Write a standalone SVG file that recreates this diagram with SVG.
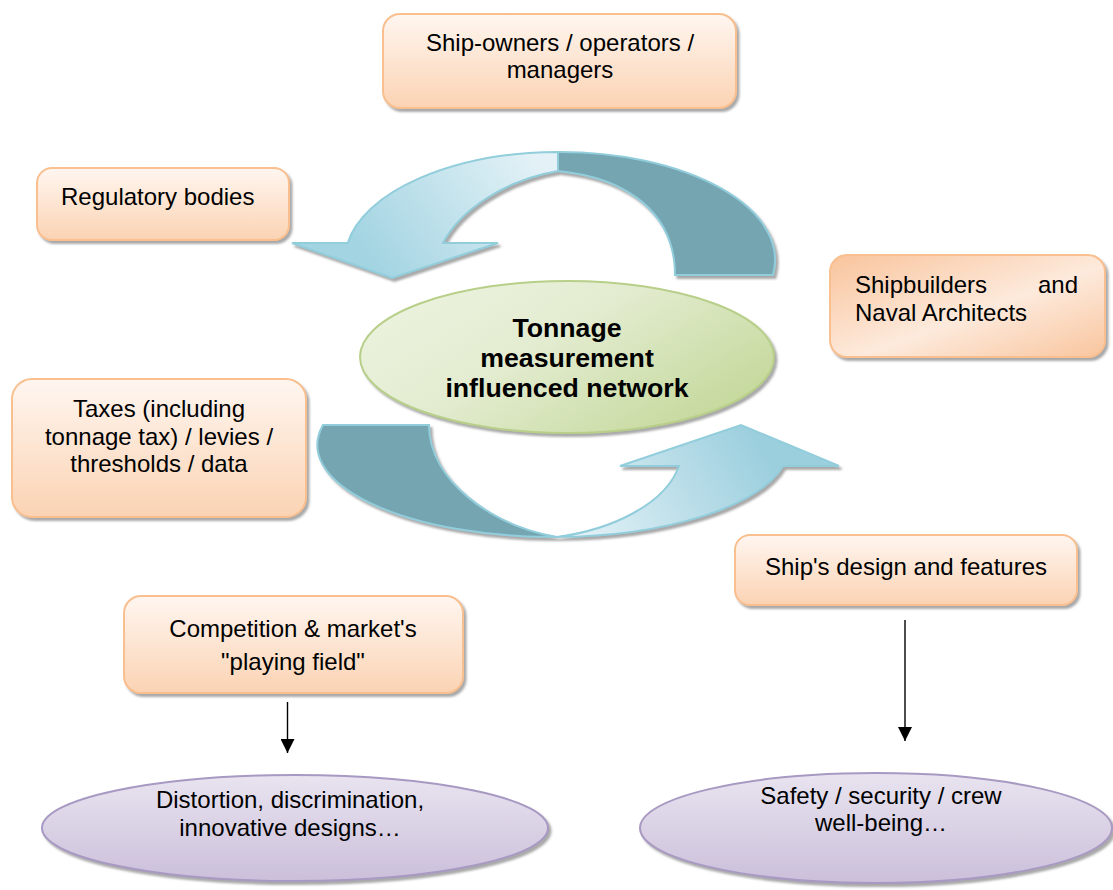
<svg xmlns="http://www.w3.org/2000/svg" width="1113" height="890" viewBox="0 0 1113 890">
<defs>
<filter id="sh" x="-10%" y="-10%" width="130%" height="130%">
<feDropShadow dx="2.5" dy="3" stdDeviation="0.8" flood-color="#7a7a7a" flood-opacity="0.65"/>
</filter>
<linearGradient id="gBox" x1="0" y1="0" x2="0" y2="1">
<stop offset="0" stop-color="#fff6f0"/>
<stop offset="1" stop-color="#fbd3b3"/>
</linearGradient>
<linearGradient id="gBoxD" x1="0" y1="0" x2="1" y2="1">
<stop offset="0" stop-color="#f9c49c"/>
<stop offset="0.55" stop-color="#fdeadc"/>
<stop offset="1" stop-color="#f9c59e"/>
</linearGradient>
<linearGradient id="gGreen" x1="0" y1="0" x2="1" y2="0.6">
<stop offset="0" stop-color="#eef4e2"/>
<stop offset="0.5" stop-color="#e3ecd0"/>
<stop offset="1" stop-color="#c7da9f"/>
</linearGradient>
<linearGradient id="gPurple" x1="0" y1="0" x2="0" y2="1">
<stop offset="0" stop-color="#e9e4f0"/>
<stop offset="1" stop-color="#cbbfda"/>
</linearGradient>
<linearGradient id="gTopLight" gradientUnits="userSpaceOnUse" x1="540" y1="160" x2="380" y2="275">
<stop offset="0" stop-color="#e4f2f7"/>
<stop offset="1" stop-color="#a3d4e2"/>
</linearGradient>
<linearGradient id="gBotLight" gradientUnits="userSpaceOnUse" x1="570" y1="535" x2="750" y2="430">
<stop offset="0" stop-color="#e4f2f7"/>
<stop offset="1" stop-color="#9ccfde"/>
</linearGradient>
<marker id="ah" viewBox="0 0 10 10" refX="10" refY="5" markerWidth="14" markerHeight="14" markerUnits="userSpaceOnUse" orient="auto">
<path d="M0,0 L10,5 L0,10 Z" fill="#000"/>
</marker>
<style>
.box{fill:url(#gBox);stroke:#f9bf8f;stroke-width:2;filter:url(#sh)}
.boxd{fill:url(#gBoxD);stroke:#f9bf8f;stroke-width:2;filter:url(#sh)}
.green{fill:url(#gGreen);stroke:#b8cf8a;stroke-width:2;filter:url(#sh)}
.purple{fill:url(#gPurple);stroke:#a899c3;stroke-width:2;filter:url(#sh)}
.light{stroke:#92cddc;stroke-width:2;stroke-linejoin:miter}
.dark{fill:#74a5b1;stroke:#92cddc;stroke-width:2}
.t{font-family:"Liberation Sans",Arial,sans-serif;font-size:24px;fill:#000}
.c{text-anchor:middle}
.b{font-family:"Liberation Sans",Arial,sans-serif;font-size:26.7px;font-weight:bold;fill:#000;text-anchor:middle}
.conn{stroke:#000;stroke-width:1.4;fill:none;marker-end:url(#ah)}
</style>
</defs>
<rect width="1113" height="890" fill="#fff"/>

<g id="cycle-top" filter="url(#sh)">
<path class="light" fill="url(#gTopLight)" d="M292,243 L347.7,243 A215 108 0 0 1 558,152 L558,171 C505,180 460,210 443,243 L498,243 L392,278 Z"/>
<path class="dark" d="M558,152 A215 108 0 0 1 773,275 L675,275 C675,215 630,178 558,171 Z"/>
</g>
<g id="cycle-bottom" filter="url(#sh)">
<path class="dark" d="M323,425 L429,425 C429,480 490,525 557,537 A236 92 0 0 1 323,425 Z"/>
<path class="light" fill="url(#gBotLight)" d="M557,537 A236 92 0 0 0 783,466 L839,466 L741,425 L620,466 L679,466 C665,505 610,530 557,537 Z"/>
</g>

<g id="shipowners">
<rect class="box" x="383" y="14" width="353" height="94" rx="17"/>
<text class="t c" x="560" y="51">Ship-owners / operators /</text>
<text class="t c" x="560" y="78">managers</text>
</g>
<g id="regulatory">
<rect class="box" x="37" y="168" width="252" height="72" rx="15"/>
<text class="t" x="61" y="205">Regulatory bodies</text>
</g>
<g id="shipbuilders">
<rect class="boxd" x="830" y="255" width="275" height="102" rx="17"/>
<text class="t" x="855" y="293">Shipbuilders</text>
<text class="t" x="1078" y="293" text-anchor="end">and</text>
<text class="t" x="855" y="321">Naval Architects</text>
</g>
<g id="network">
<ellipse class="green" cx="567" cy="357" rx="207" ry="76"/>
<text class="b" x="567" y="337">Tonnage</text>
<text class="b" x="567" y="367">measurement</text>
<text class="b" x="567" y="397">influenced network</text>
</g>
<g id="taxes">
<rect class="box" x="12" y="379" width="294" height="138" rx="20"/>
<text class="t c" x="159" y="417">Taxes (including</text>
<text class="t c" x="159" y="445">tonnage tax) / levies /</text>
<text class="t c" x="159" y="472">thresholds / data</text>
</g>
<g id="design">
<rect class="box" x="735" y="535" width="342" height="70" rx="15"/>
<text class="t c" x="906" y="575">Ship's design and features</text>
</g>
<g id="competition">
<rect class="box" x="124" y="596" width="339" height="97" rx="17"/>
<text class="t c" x="293" y="637">Competition &amp; market's</text>
<text class="t c" x="293" y="670">"playing field"</text>
</g>
<g id="distortion">
<ellipse class="purple" cx="295" cy="828" rx="253" ry="53"/>
<text class="t c" x="290" y="808">Distortion, discrimination,</text>
<text class="t c" x="290" y="836">innovative designs…</text>
</g>
<g id="safety">
<ellipse class="purple" cx="876" cy="828" rx="236" ry="55"/>
<text class="t c" x="881" y="804">Safety / security / crew</text>
<text class="t c" x="881" y="831">well-being…</text>
</g>

<g id="connectors">
<line class="conn" x1="287.5" y1="702" x2="287.5" y2="753"/>
<line class="conn" x1="905" y1="620" x2="905" y2="741"/>
</g>
</svg>
